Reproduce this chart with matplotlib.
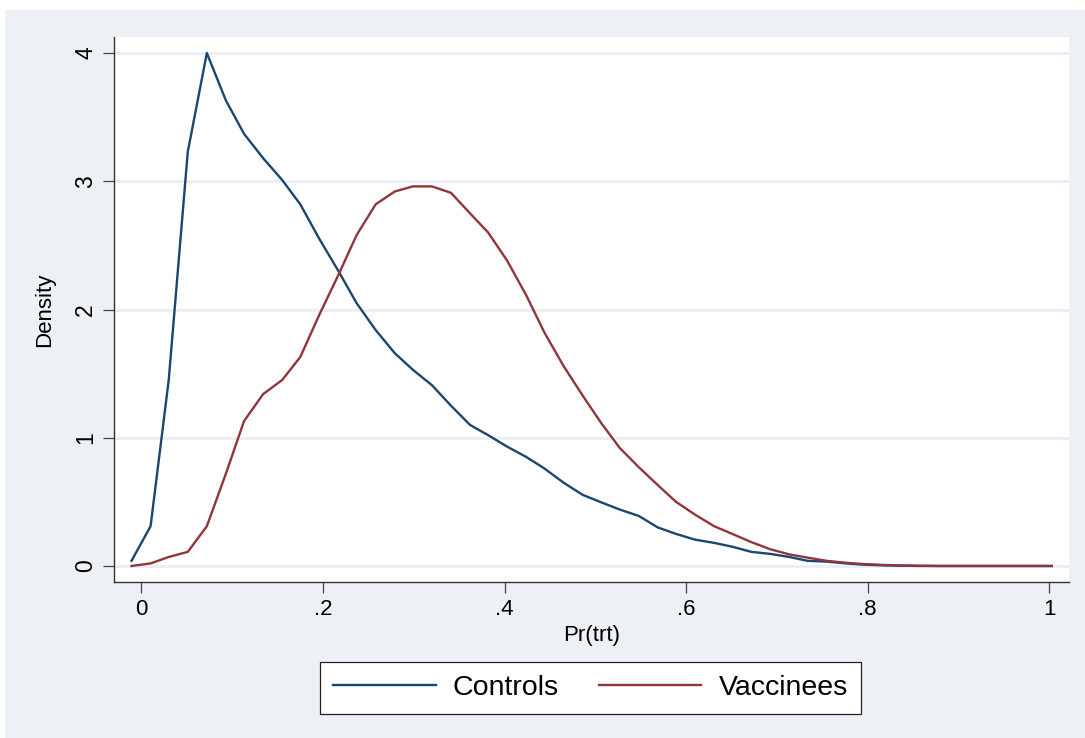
import matplotlib.pyplot as plt
from matplotlib.patches import Rectangle

plt.rcParams['font.family'] = ['Liberation Sans', 'DejaVu Sans']

# kdensity evaluation grid for Pr(trt)
pr_trt = [-0.011, 0.010, 0.030, 0.051, 0.072, 0.093, 0.113, 0.134, 0.155, 0.175,
          0.196, 0.217, 0.237, 0.258, 0.279, 0.299, 0.320, 0.341, 0.362, 0.382,
          0.403, 0.424, 0.444, 0.465, 0.486, 0.507, 0.527, 0.548, 0.569, 0.589,
          0.610, 0.631, 0.651, 0.672, 0.693, 0.714, 0.734, 0.755, 0.776, 0.796,
          0.817, 0.838, 0.858, 0.879, 0.900, 0.920, 0.941, 0.962, 0.982, 1.003]

dens_controls = [0.04, 0.31, 1.45, 3.23, 4.00, 3.63, 3.37, 3.18, 3.01, 2.82,
                 2.55, 2.30, 2.05, 1.84, 1.66, 1.53, 1.41, 1.25, 1.10, 1.02,
                 0.93, 0.85, 0.76, 0.65, 0.555, 0.495, 0.44, 0.39, 0.30, 0.25,
                 0.205, 0.18, 0.15, 0.11, 0.094, 0.07, 0.04, 0.034, 0.02, 0.01,
                 0.005, 0.002, 0.0, 0.0, 0.0, 0.0, 0.0, 0.0, 0.0, 0.0]

dens_vacc = [0.0, 0.02, 0.07, 0.11, 0.31, 0.72, 1.13, 1.34, 1.45, 1.63,
             1.96, 2.27, 2.58, 2.82, 2.92, 2.96, 2.96, 2.91, 2.75, 2.60,
             2.38, 2.11, 1.82, 1.56, 1.33, 1.11, 0.92, 0.77, 0.63, 0.50,
             0.40, 0.31, 0.25, 0.186, 0.13, 0.09, 0.065, 0.04, 0.025, 0.015,
             0.008, 0.004, 0.002, 0.0, 0.0, 0.0, 0.0, 0.0, 0.0, 0.0]

xticks = [0, 0.2, 0.4, 0.6, 0.8, 1.0]
xticklabels = ['0', '.2', '.4', '.6', '.8', '1']
yticks = [0, 1, 2, 3, 4]

navy = '#1a476f'
maroon = '#90353b'
bg = '#edf1f6'

fig = plt.figure(figsize=(10.85, 7.38), dpi=100, facecolor='white')
fig.patches.append(Rectangle((5 / 1085, 0), 1080 / 1085, 728 / 738,
                             transform=fig.transFigure, facecolor=bg,
                             edgecolor='none', zorder=-10))

ax = fig.add_axes([114 / 1085, 156 / 738, 955 / 1085, 545 / 738])
ax.set_facecolor('white')

ax.plot(pr_trt, dens_controls, color=navy, lw=1.7, label='Controls')
ax.plot(pr_trt, dens_vacc, color=maroon, lw=1.7, label='Vaccinees')

ax.set_xlim(-0.0303, 1.0220)
ax.set_ylim(-0.125, 4.125)
ax.set_xticks(xticks)
ax.set_xticklabels(xticklabels)
ax.set_yticks(yticks)
ax.set_yticklabels([str(v) for v in yticks], rotation=90, va='center')

ax.grid(axis='y', color='#eaeff5', lw=2)
ax.set_axisbelow(True)
for side in ['top', 'right']:
    ax.spines[side].set_visible(False)
for side in ['left', 'bottom']:
    ax.spines[side].set_color('#333333')
    ax.spines[side].set_linewidth(1.0)

ax.tick_params(axis='both', length=8, width=0.9, color='#444444', pad=4)
ax.tick_params(axis='x', labelsize=16)
ax.tick_params(axis='y', labelsize=16.5)

ax.set_xlabel('Pr(trt)', fontsize=16, labelpad=4)
ax.set_ylabel('Density', fontsize=16, labelpad=14)

leg = fig.legend(loc='center', bbox_to_anchor=(590.5 / 1085, 50 / 738),
                 ncol=2, fontsize=20.5, frameon=True, fancybox=False,
                 edgecolor='#222222', framealpha=1, handlelength=3.6,
                 handletextpad=0.6, columnspacing=1.4, borderpad=0.45)
leg.get_frame().set_linewidth(0.9)

fig.savefig('out.png', dpi=100)
